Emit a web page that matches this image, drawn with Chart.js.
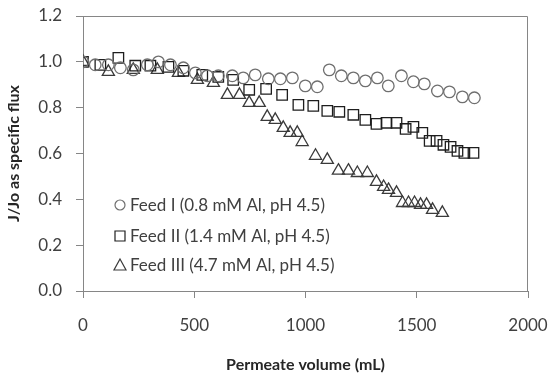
<!DOCTYPE html>
<html>
<head>
<meta charset="utf-8">
<script src="https://cdn.jsdelivr.net/npm/chart.js@4/dist/chart.umd.min.js"></script>
<style>
  html, body { margin: 0; padding: 0; background: #fff; }
  canvas { display: block; }
</style>
</head>
<body>
<canvas id="chart" width="551" height="374"></canvas>
<script>
// Feed I (0.8 mM Al)
const volI = [0, 55, 114, 168, 226, 289, 339, 393, 451, 505, 559, 608, 671, 720, 774, 833, 887, 941, 999, 1053, 1107, 1161, 1215, 1269, 1323, 1372, 1431, 1485, 1534, 1593, 1647, 1705, 1759];
const fluxI = [1.0, 0.987, 0.987, 0.974, 0.965, 0.987, 1.0, 0.987, 0.974, 0.952, 0.939, 0.939, 0.939, 0.930, 0.943, 0.926, 0.926, 0.930, 0.895, 0.891, 0.965, 0.939, 0.930, 0.917, 0.930, 0.895, 0.939, 0.913, 0.904, 0.873, 0.869, 0.847, 0.843];

// Feed II (1.4 mM Al)
const volII = [0, 78, 159, 235, 303, 384, 451, 536, 608, 675, 747, 823, 895, 968, 1035, 1098, 1152, 1215, 1269, 1319, 1364, 1409, 1450, 1485, 1525, 1558, 1589, 1620, 1652, 1683, 1714, 1755];
const fluxII = [1.0, 0.987, 1.017, 0.983, 0.983, 0.978, 0.961, 0.943, 0.934, 0.921, 0.878, 0.882, 0.856, 0.812, 0.808, 0.786, 0.782, 0.769, 0.747, 0.729, 0.734, 0.734, 0.707, 0.716, 0.690, 0.655, 0.655, 0.638, 0.629, 0.611, 0.603, 0.603];

// Feed III (4.7 mM Al)
const volIII = [0, 114, 226, 334, 429, 514, 586, 649, 703, 747, 792, 828, 864, 900, 931, 963, 985, 1045, 1098, 1148, 1193, 1233, 1278, 1319, 1351, 1373, 1409, 1436, 1463, 1490, 1517, 1544, 1571, 1615];
const fluxIII = [1.0, 0.956, 0.965, 0.965, 0.952, 0.921, 0.908, 0.856, 0.856, 0.821, 0.821, 0.760, 0.747, 0.712, 0.690, 0.690, 0.650, 0.590, 0.572, 0.525, 0.525, 0.515, 0.515, 0.476, 0.454, 0.441, 0.428, 0.384, 0.384, 0.384, 0.376, 0.376, 0.354, 0.341];

const seriesLabels = ['Feed I (0.8 mM Al, pH 4.5)', 'Feed II (1.4 mM Al, pH 4.5)', 'Feed III (4.7 mM Al, pH 4.5)'];
const xTicks = [0, 500, 1000, 1500, 2000];
const yTicks = [0, 0.2, 0.4, 0.6, 0.8, 1.0, 1.2];

const FONT = 'Lato, "Open Sans", sans-serif';
const AXIS = '#868686';

function pts(xs, ys) {
    return xs.map((x, i) => ({ x: x, y: ys[i] }));
}

// box round the plot area and the legend inside it
const boxAndLegend = {
    id: 'boxAndLegend',
    afterDatasetsDraw(chart) {
        const ctx = chart.ctx;
        const a = chart.chartArea;
        ctx.save();
        ctx.strokeStyle = AXIS;
        ctx.lineWidth = 1;
        ctx.beginPath();
        ctx.moveTo(Math.round(a.left) + 0.5, Math.round(a.top) + 0.5);
        ctx.lineTo(Math.round(a.right) - 0.5, Math.round(a.top) + 0.5);
        ctx.lineTo(Math.round(a.right) - 0.5, Math.round(a.bottom));
        ctx.stroke();

        const rows = [205, 236, 265];
        const mx = 120;
        ctx.font = '17px ' + FONT;
        ctx.textBaseline = 'middle';
        ctx.fillStyle = '#404040';
        chart.data.datasets.forEach((ds, i) => {
            const y = rows[i];
            ctx.strokeStyle = ds.borderColor;
            ctx.lineWidth = 1.2;
            ctx.beginPath();
            if (ds.pointStyle === 'circle') {
                ctx.arc(mx, y, 5, 0, Math.PI * 2);
            } else if (ds.pointStyle === 'rect') {
                ctx.rect(mx - 5, y - 5, 10, 10);
            } else {
                ctx.moveTo(mx, y - 6);
                ctx.lineTo(mx + 6, y + 5);
                ctx.lineTo(mx - 6, y + 5);
                ctx.closePath();
            }
            ctx.stroke();
            ctx.fillText(ds.label, 130, y + 1);
        });
        ctx.restore();
    }
};

new Chart(document.getElementById('chart'), {
    type: 'scatter',
    data: {
        datasets: [
            {
                label: seriesLabels[0],
                data: pts(volI, fluxI),
                pointStyle: 'circle',
                pointRadius: 5.8,
                borderColor: '#6f6f6f',
                backgroundColor: 'rgba(0,0,0,0)',
                borderWidth: 1.3
            },
            {
                label: seriesLabels[1],
                data: pts(volII, fluxII),
                pointStyle: 'rect',
                pointRadius: 7.4,
                borderColor: '#1e1e1e',
                backgroundColor: 'rgba(0,0,0,0)',
                borderWidth: 1.3
            },
            {
                label: seriesLabels[2],
                data: pts(volIII, fluxIII),
                pointStyle: 'triangle',
                pointRadius: 7,
                borderColor: '#3a3a3a',
                backgroundColor: 'rgba(0,0,0,0)',
                borderWidth: 1.3
            }
        ]
    },
    options: {
        responsive: false,
        animation: false,
        devicePixelRatio: 1,
        layout: { padding: { top: 16, right: 23, left: 0, bottom: 0 } },
        plugins: {
            legend: { display: false },
            tooltip: { enabled: false }
        },
        scales: {
            x: {
                type: 'linear',
                min: 0,
                max: 2000,
                afterBuildTicks: s => { s.ticks = xTicks.map(v => ({ value: v })); },
                afterFit: s => { s.height = 83; s.paddingLeft = 0; s.paddingRight = 0; },
                ticks: { color: '#404040', font: { family: FONT, size: 17 }, padding: 17, maxRotation: 0, callback: v => String(v) },
                grid: { drawOnChartArea: false, tickLength: 7, color: AXIS },
                border: { color: AXIS },
                title: {
                    display: true,
                    text: 'Permeate volume (mL)',
                    color: '#262626',
                    font: { family: FONT, size: 16, weight: 'bold' },
                    padding: { top: 4, bottom: 0 }
                }
            },
            y: {
                min: 0,
                max: 1.2,
                afterBuildTicks: s => { s.ticks = yTicks.map(v => ({ value: v })); },
                afterFit: s => { s.width = 83; s.paddingTop = 0; s.paddingBottom = 0; },
                ticks: { color: '#404040', font: { family: FONT, size: 17 }, padding: 14, callback: v => v.toFixed(1) },
                grid: { drawOnChartArea: false, tickLength: 7, color: AXIS },
                border: { color: AXIS },
                title: {
                    display: true,
                    text: 'J/Jo as specific flux',
                    color: '#262626',
                    font: { family: FONT, size: 16, weight: 'bold' },
                    padding: { top: 4, bottom: 4 }
                }
            }
        }
    },
    plugins: [boxAndLegend]
});
</script>
</body>
</html>
